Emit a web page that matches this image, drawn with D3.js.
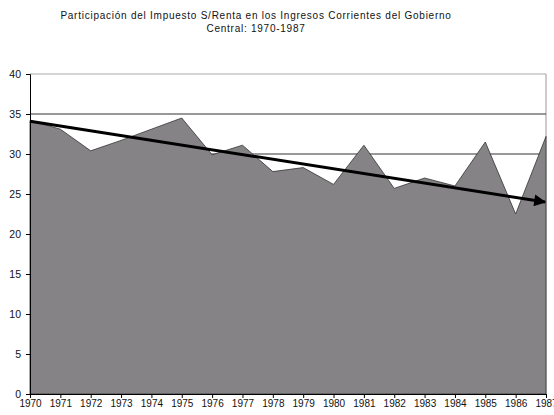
<!DOCTYPE html>
<html lang="es">
<head>
<meta charset="UTF-8">
<title>Participación del Impuesto S/Renta</title>
<script src="https://d3js.org/d3.v7.min.js"></script>
<style>
  body { margin: 0; background: #fff; }
  svg { display: block; font-family: "Liberation Sans", Arial, sans-serif; }
</style>
</head>
<body>
<div id="chart"></div>
<script>
// data
const years = d3.range(1970, 1988);
const share = [34.2, 33.1, 30.4, 31.7, 33.1, 34.5, 29.9, 31.1, 27.8, 28.3,
               26.2, 31.1, 25.7, 27.0, 26.0, 31.5, 22.5, 32.2];
const trendYears = [1970, 1987];
const trendValues = [34.1, 24.0];
const yTicks = [0, 5, 10, 15, 20, 25, 30, 35, 40];
const gridValues = [30, 35];
const titleLines = ["Participación del Impuesto S/Renta en los Ingresos Corrientes del Gobierno",
                    "Central: 1970-1987"];

const width = 554, height = 415;
const margin = {top: 74, right: 8, bottom: 21, left: 30};

const svg = d3.select("#chart").append("svg")
    .attr("width", width)
    .attr("height", height);

const x = d3.scaleLinear()
    .domain([1970, 1987])
    .range([margin.left, width - margin.right]);

const y = d3.scaleLinear()
    .domain([0, 40])
    .range([height - margin.bottom, margin.top]);

// title
svg.append("g").selectAll("text")
    .data(titleLines)
    .enter().append("text")
    .attr("x", 256)
    .attr("y", (d, i) => 19 + i * 13)
    .attr("text-anchor", "middle")
    .attr("font-size", 10)
    .attr("letter-spacing", 0.75)
    .attr("fill", "#111")
    .text(d => d);

// plot frame: top line grey, right line grey
svg.append("line")
    .attr("x1", x(1970)).attr("x2", x(1987))
    .attr("y1", y(40)).attr("y2", y(40))
    .attr("stroke", "#aaa").attr("stroke-width", 1.2);
svg.append("line")
    .attr("x1", x(1987)).attr("x2", x(1987))
    .attr("y1", y(40)).attr("y2", y(0))
    .attr("stroke", "#999").attr("stroke-width", 1);

// gridlines
svg.append("g").selectAll("line")
    .data(gridValues)
    .enter().append("line")
    .attr("x1", x(1970)).attr("x2", x(1987))
    .attr("y1", d => y(d)).attr("y2", d => y(d))
    .attr("stroke", "#333").attr("stroke-width", 1);

// area
const area = d3.area()
    .x((d, i) => x(years[i]))
    .y0(y(0))
    .y1(d => y(d));

svg.append("path")
    .datum(share)
    .attr("d", area)
    .attr("fill", "#858385")
    .attr("stroke", "#333")
    .attr("stroke-width", 0.8);

// axes
const yAxis = d3.axisLeft(y)
    .tickValues(yTicks)
    .tickSize(4)
    .tickFormat(d3.format("d"));

const gy = svg.append("g")
    .attr("transform", `translate(${margin.left},0)`)
    .call(yAxis);
gy.select(".domain").attr("stroke", "#000");
gy.selectAll("text").attr("font-size", 10.5).attr("fill", "#111").attr("x", -9);

const xAxis = d3.axisBottom(x)
    .tickValues(years)
    .tickSize(4)
    .tickFormat(d3.format("d"));

const gx = svg.append("g")
    .attr("transform", `translate(0,${y(0)})`)
    .call(xAxis);
gx.select(".domain").attr("stroke", "#000");
gx.selectAll("text").attr("font-size", 10).attr("fill", "#111").attr("y", 6);

// trend arrow
svg.append("defs").append("marker")
    .attr("id", "arrow")
    .attr("viewBox", "0 0 10 10")
    .attr("refX", 9).attr("refY", 5)
    .attr("markerWidth", 5.5).attr("markerHeight", 4)
    .attr("orient", "auto")
    .attr("markerUnits", "strokeWidth")
    .append("path")
    .attr("d", "M0,0 L10,5 L0,10 Z")
    .attr("fill", "#000");

svg.append("line")
    .attr("x1", x(trendYears[0])).attr("y1", y(trendValues[0]))
    .attr("x2", x(trendYears[1]) - 1).attr("y2", y(trendValues[1]))
    .attr("stroke", "#000")
    .attr("stroke-width", 3)
    .attr("marker-end", "url(#arrow)");
</script>
</body>
</html>
